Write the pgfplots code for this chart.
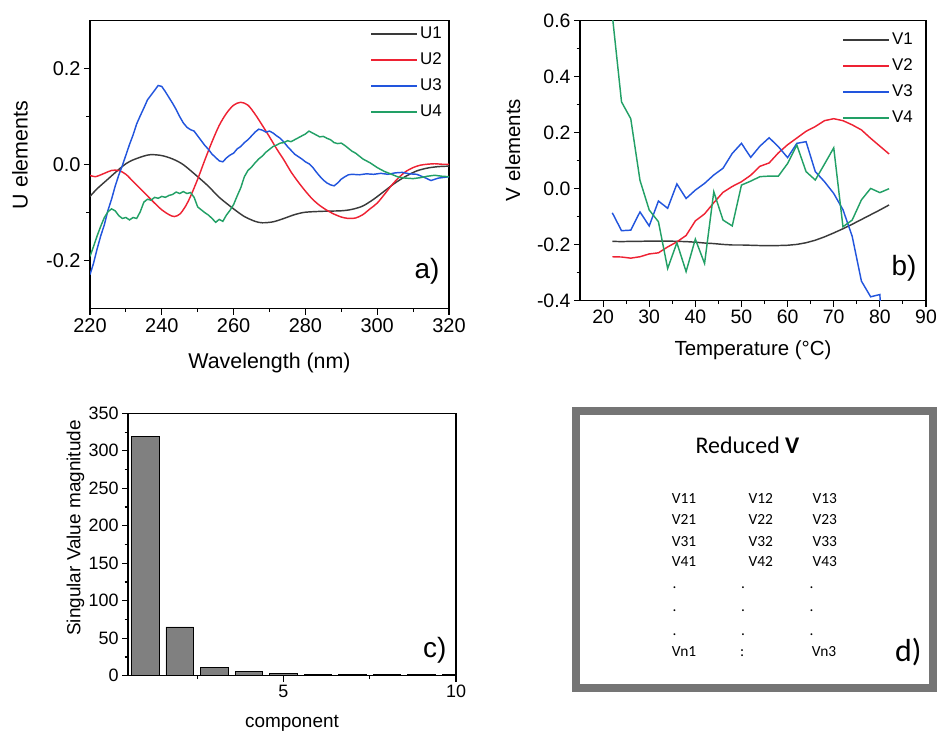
\documentclass[border=0pt]{standalone}
\usepackage{fontspec}
\setmainfont{Liberation Sans}
\newfontfamily\carlito{Carlito}
\usepackage{pgfplots}
\pgfplotsset{compat=1.18}
\definecolor{cU1}{RGB}{58,58,58}
\definecolor{cU2}{RGB}{238,34,51}
\definecolor{cU3}{RGB}{34,85,221}
\definecolor{cU4}{RGB}{34,160,102}
\definecolor{barg}{RGB}{128,128,128}
\definecolor{frameg}{RGB}{117,117,117}
\pgfplotsset{
  myax/.style={scale only axis, anchor=south west, tick align=outside, tick pos=left,
    major tick length=6bp, minor tick length=3.5bp,
    axis line style={line width=1.3bp}, every tick/.style={black,line width=1.1bp},
    tick label style={font=\fontsize{20}{22}\selectfont},
    label style={font=\fontsize{21.5}{24}\selectfont},
    /pgf/number format/assume math mode=true,
    legend cell align=left,
    legend style={draw=none, fill=none, at={(1,1)}, anchor=north east, xshift=-3bp, yshift=-2bp,
      font=\fontsize{17}{19}\selectfont, row sep=6bp, inner sep=1bp,
      nodes={text height=12.5bp, text depth=3.5bp}},
  },
}
\begin{document}
\begin{tikzpicture}
\useasboundingbox (0,0) rectangle (937bp,-733bp);
% ---------------- a)
\begin{axis}[myax, at={(90bp,-308.7bp)}, width=359bp, height=288bp,
  xmin=220, xmax=320, ymin=-0.3, ymax=0.3,
  xtick={220,240,...,320}, minor x tick num=1,
  ytick={-0.2,0,0.2}, minor y tick num=1,
  yticklabel style={/pgf/number format/.cd, fixed, fixed zerofill, precision=1},
  xlabel={Wavelength (nm)}, ylabel={U elements},
  xlabel style={at={(axis description cs:0.5,-0.19)}, anchor=center},
  ylabel style={at={(axis description cs:-0.195,0.534)}, anchor=center},
  legend image code/.code={\draw[#1, line width=1.6bp] (0bp,0bp) -- (46bp,0bp);},
  legend style={xshift=-1bp},
  every axis plot/.append style={line width=1.45bp},
]
\addplot[cU1, smooth] coordinates {
(220,-0.066)(222,-0.05)(225,-0.03)(228,-0.01)(230,0.002)(232,0.010)(235,0.018)(237,0.021)
(240,0.019)(243,0.012)(246,0.0)(250,-0.025)(253,-0.045)(256,-0.068)(260,-0.092)(263,-0.108)
(266,-0.118)(268,-0.121)(271,-0.119)(274,-0.112)(277,-0.104)(280,-0.099)(285,-0.097)(290,-0.096)
(293,-0.093)(296,-0.086)(299,-0.072)(302,-0.055)(305,-0.038)(308,-0.024)(311,-0.013)(314,-0.007)
(317,-0.004)(320,-0.003)};
\addlegendentry{U1}
\addplot[cU2, smooth] coordinates {
(220,-0.022)(221.5,-0.025)(224,-0.018)(226,-0.012)(228,-0.012)(230,-0.020)(232,-0.035)(234,-0.050)
(236,-0.065)(238,-0.080)(240,-0.094)(242,-0.104)(243.5,-0.108)(245,-0.103)(246.5,-0.088)(248,-0.066)
(250,-0.030)(252,0.010)(254,0.048)(256,0.082)(258,0.107)(260,0.124)(262,0.130)(264,0.124)
(266,0.105)(268,0.082)(270,0.058)(272,0.033)(274,0.010)(276,-0.015)(278,-0.036)(280,-0.055)
(282,-0.072)(284,-0.085)(286,-0.095)(288,-0.103)(290,-0.109)(292,-0.112)(294,-0.111)(296,-0.104)
(298,-0.092)(300,-0.080)(302,-0.062)(304,-0.043)(306,-0.027)(308,-0.014)(310,-0.006)(312,-0.001)
(314,0.001)(316,0.002)(318,0.001)(320,0.001)};
\addlegendentry{U2}
\addplot[cU3] coordinates {
(220,-0.229)(221,-0.205)(222,-0.175)(223,-0.148)(224,-0.125)(225,-0.095)(226,-0.072)(227,-0.045)
(228,-0.022)(229,-0.002)(230,0.020)(231,0.042)(232,0.062)(233,0.085)(234,0.102)(235,0.118)
(236,0.135)(237,0.145)(238,0.155)(239,0.165)(240,0.163)(241,0.152)(242,0.140)(243,0.128)
(244,0.115)(245,0.100)(246,0.087)(247,0.078)(248,0.073)(249,0.070)(250,0.060)(251,0.050)
(252,0.040)(253,0.032)(254,0.022)(255,0.015)(256,0.008)(257,0.006)(258,0.014)(259,0.020)
(260,0.024)(261,0.033)(262,0.038)(263,0.046)(264,0.052)(265,0.060)(266,0.068)(267,0.074)
(268,0.072)(269,0.068)(270,0.070)(271,0.066)(272,0.060)(273,0.055)(274,0.047)(275,0.038)
(276,0.030)(277,0.022)(278,0.017)(279,0.012)(280,0.006)(281,0.002)(282,-0.005)(283,-0.015)
(284,-0.024)(285,-0.032)(286,-0.038)(287,-0.042)(288,-0.044)(289,-0.038)(290,-0.030)(291,-0.025)
(292,-0.021)(293,-0.020)(295,-0.021)(297,-0.019)(299,-0.020)(301,-0.018)(303,-0.020)(305,-0.017)
(307,-0.016)(309,-0.019)(311,-0.020)(313,-0.026)(315,-0.033)(317,-0.028)(319,-0.026)(320,-0.025)};
\addlegendentry{U3}
\addplot[cU4] coordinates {
(220,-0.191)(221,-0.170)(222,-0.148)(223,-0.128)(224,-0.110)(225,-0.098)(226,-0.092)(227,-0.096)
(228,-0.106)(229,-0.112)(230,-0.110)(231,-0.115)(232,-0.110)(233,-0.112)(234,-0.098)(235,-0.078)
(236,-0.072)(237,-0.074)(238,-0.068)(239,-0.070)(240,-0.066)(241,-0.068)(242,-0.064)(243,-0.062)
(244,-0.057)(245,-0.060)(246,-0.056)(247,-0.060)(248,-0.058)(249,-0.068)(250,-0.088)(251,-0.094)
(252,-0.100)(253,-0.105)(254,-0.112)(255,-0.120)(256,-0.114)(257,-0.118)(258,-0.105)(259,-0.095)
(260,-0.083)(261,-0.065)(262,-0.048)(263,-0.025)(264,-0.012)(265,-0.005)(266,0.004)(267,0.012)
(268,0.018)(269,0.026)(270,0.032)(271,0.038)(272,0.041)(273,0.045)(274,0.046)(275,0.050)
(276,0.048)(277,0.052)(278,0.056)(279,0.060)(280,0.064)(281,0.070)(282,0.066)(283,0.062)
(284,0.058)(285,0.059)(286,0.055)(287,0.052)(288,0.046)(289,0.044)(290,0.045)(291,0.040)
(292,0.034)(293,0.028)(294,0.024)(295,0.018)(296,0.012)(297,0.008)(298,0.004)(299,-0.001)
(300,-0.006)(302,-0.014)(304,-0.020)(306,-0.026)(308,-0.028)(310,-0.029)(312,-0.027)(314,-0.024)
(316,-0.022)(318,-0.024)(320,-0.025)};
\addlegendentry{U4}
\end{axis}
\node[anchor=base east, font=\fontsize{28}{30}\selectfont] at (443bp,-278bp) {a)};
% ---------------- b)
\begin{axis}[myax, at={(580bp,-300.7bp)}, width=346bp, height=280bp,
  xmin=15, xmax=90, ymin=-0.4, ymax=0.6,
  xtick={20,30,...,90}, minor x tick num=1,
  ytick={-0.4,-0.2,0,0.2,0.4,0.6}, minor y tick num=1,
  tick label style={font=\fontsize{19.5}{22}\selectfont},
  label style={font=\fontsize{20.5}{23}\selectfont},
  yticklabel style={/pgf/number format/.cd, fixed, fixed zerofill, precision=1},
  xlabel={Temperature (°C)}, ylabel={V elements},
  xlabel style={at={(axis description cs:0.5,-0.176)}, anchor=center},
  ylabel style={at={(axis description cs:-0.194,0.538)}, anchor=center},
  legend image code/.code={\draw[#1, line width=1.6bp] (0bp,0bp) -- (46bp,0bp);},
  legend style={xshift=-7bp, yshift=-6bp},
  every axis plot/.append style={line width=1.45bp},
]
\addplot[cU1] coordinates {
(22,-0.188)(24,-0.189)(26,-0.188)(28,-0.188)(30,-0.187)(32,-0.187)(34,-0.187)(36,-0.188)
(38,-0.189)(40,-0.191)(42,-0.194)(44,-0.196)(46,-0.199)(48,-0.201)(50,-0.201)(52,-0.202)
(54,-0.203)(56,-0.203)(58,-0.203)(60,-0.202)(62,-0.199)(64,-0.193)(66,-0.184)(68,-0.172)
(70,-0.158)(72,-0.143)(74,-0.127)(76,-0.110)(78,-0.093)(80,-0.076)(82,-0.058)};
\addlegendentry{V1}
\addplot[cU2] coordinates {
(22,-0.243)(24,-0.244)(26,-0.248)(28,-0.243)(30,-0.233)(32,-0.229)(34,-0.208)(36,-0.190)
(38,-0.167)(40,-0.115)(42,-0.090)(44,-0.050)(46,-0.013)(48,0.008)(50,0.025)(52,0.048)
(54,0.080)(56,0.092)(58,0.128)(60,0.157)(62,0.181)(64,0.205)(66,0.222)(68,0.243)
(70,0.250)(72,0.243)(74,0.228)(76,0.210)(78,0.180)(80,0.152)(82,0.124)};
\addlegendentry{V2}
\addplot[cU3] coordinates {
(22,-0.086)(24,-0.150)(26,-0.148)(28,-0.083)(30,-0.133)(32,-0.044)(34,-0.070)(36,0.017)
(38,-0.035)(40,-0.005)(42,0.019)(44,0.049)(46,0.073)(48,0.126)(50,0.162)(52,0.112)
(54,0.152)(56,0.182)(58,0.150)(60,0.111)(62,0.162)(64,0.168)(66,0.061)(68,0.025)
(70,-0.017)(72,-0.075)(74,-0.170)(76,-0.330)(78,-0.386)(80,-0.378)(82,-1.0)};
\addlegendentry{V3}
\addplot[cU4] coordinates {
(22,0.62)(24,0.310)(26,0.250)(28,0.030)(30,-0.076)(32,-0.118)(34,-0.285)(36,-0.193)
(38,-0.296)(40,-0.180)(42,-0.267)(44,-0.011)(46,-0.112)(48,-0.133)(50,0.013)(52,0.027)
(54,0.043)(56,0.045)(58,0.045)(60,0.090)(62,0.156)(64,0.061)(66,0.031)(68,0.088)
(70,0.146)(72,-0.136)(74,-0.112)(76,-0.040)(78,0.001)(80,-0.014)(82,0.0)};
\addlegendentry{V4}
\end{axis}
\node[anchor=base east, font=\fontsize{28}{30}\selectfont] at (920bp,-275bp) {b)};
% ---------------- c)
\begin{axis}[myax, at={(128bp,-675.7bp)}, width=328bp, height=262.4bp,
  xmin=0.5, xmax=10, ymin=0, ymax=350,
  xtick={5,10}, minor xtick={2.5,7.5},
  ytick={0,50,...,350}, minor y tick num=1,
  tick label style={font=\fontsize{18}{20}\selectfont},
  label style={font=\fontsize{19}{22}\selectfont},
  xlabel={component}, ylabel={Singular Value magnitude},
  xlabel style={at={(axis description cs:0.5,-0.18)}, anchor=center},
  ylabel style={at={(axis description cs:-0.16,0.563)}, anchor=center},
]
\addplot[ybar, bar width=0.8, fill=barg, draw=black, line width=0.9bp] coordinates {
(1,319)(2,65)(3,10.5)(4,5.3)(5,2.7)(6,1.8)(7,1.5)(8,1.3)(9,1.2)(10,1.1)};
\end{axis}
\node[anchor=base east, font=\fontsize{28}{30}\selectfont] at (450bp,-657bp) {c)};
% ---------------- d)
\draw[line width=7.5bp, frameg] (576bp,-411bp) rectangle (933bp,-688bp);
\begin{scope}[every node/.style={font=\carlito\fontsize{15.5}{18}\selectfont, anchor=base west, inner sep=0pt}]
\node[anchor=base, font=\carlito\fontsize{24}{28}\selectfont] at (747.5bp,-453bp) {Reduced \textbf{V}};
\node at (671.7bp,-503.3bp) {V11}; \node at (748.3bp,-503.3bp) {V12}; \node at (812.3bp,-503.3bp) {V13};
\node at (671.7bp,-524bp) {V21}; \node at (748.3bp,-524bp) {V22}; \node at (812.3bp,-524bp) {V23};
\node at (671.7bp,-546.7bp) {V31}; \node at (748.3bp,-546.7bp) {V32}; \node at (812.3bp,-546.7bp) {V33};
\node at (671.7bp,-566.7bp) {V41}; \node at (748.3bp,-566.7bp) {V42}; \node at (812.3bp,-566.7bp) {V43};
\node at (672.5bp,-588bp) {.}; \node at (741bp,-588bp) {.}; \node at (809.5bp,-588bp) {.};
\node at (672.5bp,-611.7bp) {.}; \node at (741bp,-611.7bp) {.}; \node at (809.5bp,-611.7bp) {.};
\node at (672.5bp,-635bp) {.}; \node at (741bp,-635bp) {.}; \node at (809.5bp,-635bp) {.};
\node at (671.7bp,-656.7bp) {Vn1}; \node at (740bp,-656.7bp) {:}; \node at (811.7bp,-656.7bp) {Vn3};
\end{scope}
\node[anchor=base east, font=\carlito\fontsize{32}{36}\selectfont] at (925bp,-661bp) {d)};
\end{tikzpicture}
\end{document}
